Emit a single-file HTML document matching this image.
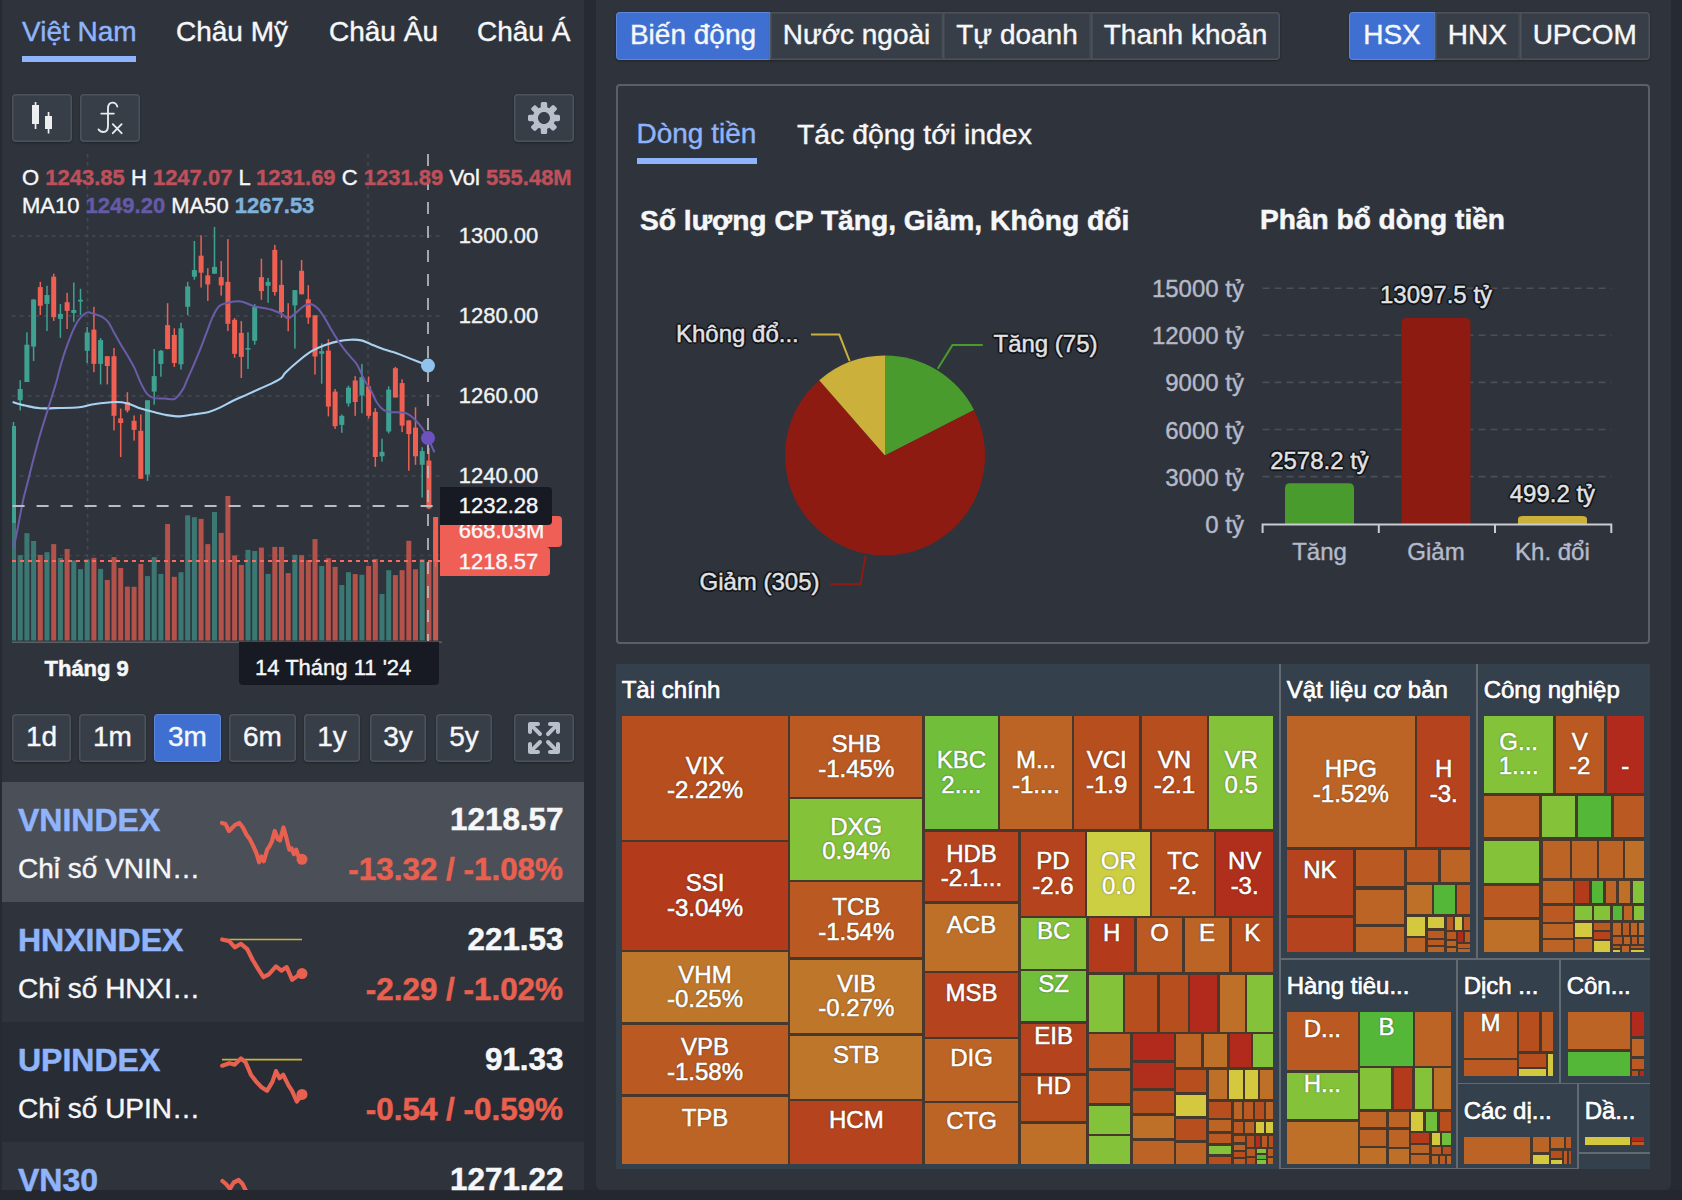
<!DOCTYPE html><html><head><meta charset="utf-8"><title>Dashboard</title><style>
*{box-sizing:border-box}
html,body{margin:0;padding:0}
html{width:1682px;height:1200px;overflow:hidden}
body{width:1682px;height:1200px;background:#24272d;position:relative;overflow:hidden;font-family:"Liberation Sans",sans-serif;color:#f6f7f9;font-size:28px;-webkit-text-stroke:.4px}
.abs{position:absolute}
.panel{position:absolute;background:#2f343c}
.t{position:absolute;white-space:nowrap;line-height:1}
.btn{position:absolute;background:#383e47;border-radius:4px;box-shadow:inset 0 0 0 1.500px rgba(255,255,255,.11),0 1px 2px rgba(17,20,24,.5);text-align:center;font-size:28px;color:#f6f7f9}
.btn.on{background:#3f70d1;box-shadow:inset 0 0 0 1px rgba(255,255,255,.16),0 1px 2px rgba(17,20,24,.5)}
.tb{height:48px;line-height:46.800px}
.blue{color:#8fb4fb}
.red{color:#e8604f}
.b{font-weight:bold;-webkit-text-stroke:.5px}
.row{position:absolute;left:2px;width:582px;height:120px}
.tm{position:absolute;overflow:hidden;color:#fff;text-align:center;font-size:24px;line-height:24.500px;-webkit-text-stroke:.6px;text-shadow:0 0 2px rgba(0,0,0,.6),0 0 1px rgba(0,0,0,.5)}
.sec{position:absolute;background:#35404d}
.sech{position:absolute;font-size:24px;line-height:1;color:#fff;white-space:nowrap;-webkit-text-stroke:.7px;text-shadow:0 0 2px rgba(0,0,0,.5)}
.pl{position:absolute;white-space:nowrap;font-size:24px;line-height:1;color:#e0e2e5;-webkit-text-stroke:.45px;text-shadow:-1.400px -1.400px 0 #101317,1.400px -1.400px 0 #101317,-1.400px 1.400px 0 #101317,1.400px 1.400px 0 #101317,0 -1.800px 0 #101317,0 1.800px 0 #101317,-1.800px 0 0 #101317,1.800px 0 0 #101317,0 0 3px #101317}
.ax{position:absolute;white-space:nowrap;font-size:24px;line-height:1;color:#b5b9c9}
</style></head><body>
<div class="abs" style="left:0;top:0;width:1682px;height:1190px;background:#262a32"></div>
<div class="panel" style="left:2px;top:0;width:582px;height:1190px;border-radius:0 0 5px 5px"></div>
<div class="panel" style="left:596px;top:0;width:1075px;height:1190px;border-radius:0 0 6px 6px"></div>
<div class="t blue" style="left:22px;top:15.9px;font-size:28px;line-height:32.2px;">Việt Nam</div>
<div class="t " style="left:176px;top:15.9px;font-size:28px;line-height:32.2px;">Châu Mỹ</div>
<div class="t " style="left:329px;top:15.9px;font-size:28px;line-height:32.2px;">Châu Âu</div>
<div class="t " style="left:477px;top:15.9px;font-size:28px;line-height:32.2px;">Châu Á</div>
<div class="abs" style="left:22px;top:56px;width:114px;height:6px;background:#8fb4fb"></div>
<div class="btn" style="left:12px;top:94px;width:60px;height:48px"></div>
<div class="btn" style="left:80px;top:94px;width:60px;height:48px"></div>
<div class="btn" style="left:514px;top:94px;width:60px;height:48px"></div>
<svg class="abs" style="left:0;top:90px" width="584" height="60" viewBox="0 90 584 60">
<g fill="#eceef0"><rect x="32" y="105" width="7" height="19"/><rect x="34.7" y="102" width="1.7" height="27"/>
<rect x="45" y="116" width="7" height="13"/><rect x="47.7" y="112" width="1.7" height="21.5"/></g>
<g fill="none" stroke="#e8eaed" stroke-width="1.9" stroke-linecap="round"><path d="M117.300 106.600C116.600 104 114.800 102.600 112.600 102.600C109.600 102.600 108 104.800 108 108.600V126C108 129.800 106.200 132 103.400 132C101.400 132 99.600 131 98.600 129.400"/><path d="M101.300 113.600H113.800"/><path d="M112.800 124.200L121.600 133.200M121.600 124.200L112.800 133.200"/></g>
<g transform="translate(528,102) scale(2)" fill="#b9c0cb"><path fill-rule="evenodd" d="M15.190 6.390h-1.850c-.11-.37-.27-.71-.45-1.040l1.360-1.360c.31-.31.31-.82 0-1.130l-1.130-1.130a.803.803 0 00-1.130 0l-1.360 1.360c-.33-.17-.67-.33-1.040-.44V.790c0-.44-.36-.8-.8-.8h-1.600c-.44 0-.8.36-.8.800v1.860c-.39.12-.75.28-1.100.47l-1.300-1.300c-.3-.3-.79-.3-1.090 0L1.820 2.910c-.3.300-.3.790 0 1.090l1.300 1.300c-.2.340-.36.700-.48 1.090H.790c-.44 0-.8.36-.8.800v1.600c0 .44.360.8.800.8h1.850c.11.370.27.710.45 1.040l-1.360 1.360c-.31.31-.31.82 0 1.130l1.130 1.130c.31.31.82.31 1.130 0l1.360-1.360c.33.180.67.330 1.040.44v1.860c0 .44.360.8.800.8h1.600c.44 0 .8-.36.8-.8v-1.860c.39-.12.750-.28 1.100-.47l1.300 1.300c.3.300.79.300 1.090 0l1.090-1.090c.3-.3.300-.79 0-1.090l-1.300-1.300c.19-.35.360-.71.480-1.100h1.850c.44 0 .8-.36.800-.8v-1.600a.816.816 0 00-.81-.79zm-7.200 4.600c-1.660 0-3-1.340-3-3s1.340-3 3-3 3 1.340 3 3-1.340 3-3 3z"/></g>
</svg>
<svg class="abs" style="left:0;top:150px" width="584" height="545" viewBox="0 150 584 545"><defs><clipPath id="cc"><rect x="12" y="150" width="430" height="500"/></clipPath></defs><g clip-path="url(#cc)">
<line x1="12" x2="440" y1="236" y2="236" stroke="#464b53" stroke-width="1.5" stroke-dasharray="3.5 4.5"/>
<line x1="12" x2="440" y1="316" y2="316" stroke="#464b53" stroke-width="1.5" stroke-dasharray="3.5 4.5"/>
<line x1="12" x2="440" y1="396" y2="396" stroke="#464b53" stroke-width="1.5" stroke-dasharray="3.5 4.5"/>
<line x1="12" x2="440" y1="476" y2="476" stroke="#464b53" stroke-width="1.5" stroke-dasharray="3.5 4.5"/>
<line x1="12" x2="440" y1="555.5" y2="555.5" stroke="#40454d" stroke-width="1.4" stroke-dasharray="3.5 4.5"/>
<line x1="87.5" x2="87.5" y1="154" y2="641" stroke="#464b53" stroke-width="1.5" stroke-dasharray="3.5 4.5"/>
<line x1="368" x2="368" y1="154" y2="641" stroke="#464b53" stroke-width="1.5" stroke-dasharray="3.5 4.5"/>
<rect x="11.0" y="522.5" width="5" height="118.0" fill="#3c7873"/>
<rect x="17.7" y="555.2" width="5" height="85.3" fill="#3c7873"/>
<rect x="24.4" y="533.2" width="5" height="107.3" fill="#3c7873"/>
<rect x="31.1" y="541.0" width="5" height="99.5" fill="#3c7873"/>
<rect x="37.8" y="554.9" width="5" height="85.6" fill="#b2524b"/>
<rect x="44.5" y="552.2" width="5" height="88.3" fill="#3c7873"/>
<rect x="51.2" y="544.1" width="5" height="96.4" fill="#b2524b"/>
<rect x="57.9" y="558.0" width="5" height="82.5" fill="#3c7873"/>
<rect x="64.6" y="549.0" width="5" height="91.5" fill="#b2524b"/>
<rect x="71.3" y="560.4" width="5" height="80.1" fill="#3c7873"/>
<rect x="78.0" y="569.2" width="5" height="71.3" fill="#3c7873"/>
<rect x="84.7" y="559.4" width="5" height="81.1" fill="#3c7873"/>
<rect x="91.4" y="557.8" width="5" height="82.7" fill="#b2524b"/>
<rect x="98.1" y="568.9" width="5" height="71.6" fill="#3c7873"/>
<rect x="104.8" y="580.0" width="5" height="60.5" fill="#b2524b"/>
<rect x="111.5" y="557.1" width="5" height="83.4" fill="#b2524b"/>
<rect x="118.2" y="568.0" width="5" height="72.5" fill="#b2524b"/>
<rect x="124.9" y="586.6" width="5" height="53.9" fill="#b2524b"/>
<rect x="131.6" y="586.8" width="5" height="53.7" fill="#b2524b"/>
<rect x="138.3" y="563.9" width="5" height="76.6" fill="#b2524b"/>
<rect x="145.0" y="576.1" width="5" height="64.4" fill="#3c7873"/>
<rect x="151.7" y="557.1" width="5" height="83.4" fill="#3c7873"/>
<rect x="158.4" y="573.9" width="5" height="66.6" fill="#3c7873"/>
<rect x="165.1" y="524.0" width="5" height="116.5" fill="#b2524b"/>
<rect x="171.8" y="576.8" width="5" height="63.7" fill="#b2524b"/>
<rect x="178.5" y="572.2" width="5" height="68.3" fill="#3c7873"/>
<rect x="185.2" y="515.3" width="5" height="125.2" fill="#3c7873"/>
<rect x="191.9" y="517.2" width="5" height="123.3" fill="#3c7873"/>
<rect x="198.6" y="518.9" width="5" height="121.6" fill="#b2524b"/>
<rect x="205.3" y="544.1" width="5" height="96.4" fill="#b2524b"/>
<rect x="212.0" y="512.0" width="5" height="128.5" fill="#3c7873"/>
<rect x="218.7" y="532.9" width="5" height="107.6" fill="#b2524b"/>
<rect x="225.4" y="496.0" width="5" height="144.5" fill="#b2524b"/>
<rect x="232.1" y="555.4" width="5" height="85.1" fill="#b2524b"/>
<rect x="238.8" y="565.0" width="5" height="75.5" fill="#b2524b"/>
<rect x="245.5" y="549.9" width="5" height="90.6" fill="#3c7873"/>
<rect x="252.2" y="551.0" width="5" height="89.5" fill="#3c7873"/>
<rect x="258.9" y="547.6" width="5" height="92.9" fill="#b2524b"/>
<rect x="265.6" y="573.9" width="5" height="66.6" fill="#3c7873"/>
<rect x="272.3" y="546.9" width="5" height="93.6" fill="#b2524b"/>
<rect x="279.0" y="546.9" width="5" height="93.6" fill="#b2524b"/>
<rect x="285.7" y="573.1" width="5" height="67.4" fill="#b2524b"/>
<rect x="292.4" y="554.8" width="5" height="85.7" fill="#3c7873"/>
<rect x="299.1" y="555.2" width="5" height="85.3" fill="#b2524b"/>
<rect x="305.8" y="560.0" width="5" height="80.5" fill="#b2524b"/>
<rect x="312.5" y="539.1" width="5" height="101.4" fill="#b2524b"/>
<rect x="319.2" y="566.0" width="5" height="74.5" fill="#3c7873"/>
<rect x="325.9" y="558.2" width="5" height="82.3" fill="#b2524b"/>
<rect x="332.6" y="566.9" width="5" height="73.6" fill="#b2524b"/>
<rect x="339.3" y="585.0" width="5" height="55.5" fill="#3c7873"/>
<rect x="346.0" y="572.2" width="5" height="68.3" fill="#3c7873"/>
<rect x="352.7" y="574.1" width="5" height="66.4" fill="#b2524b"/>
<rect x="359.4" y="574.8" width="5" height="65.7" fill="#3c7873"/>
<rect x="366.1" y="566.0" width="5" height="74.5" fill="#b2524b"/>
<rect x="372.8" y="559.1" width="5" height="81.4" fill="#b2524b"/>
<rect x="379.5" y="594.0" width="5" height="46.5" fill="#3c7873"/>
<rect x="386.2" y="570.2" width="5" height="70.3" fill="#3c7873"/>
<rect x="392.9" y="575.1" width="5" height="65.4" fill="#b2524b"/>
<rect x="399.6" y="570.2" width="5" height="70.3" fill="#b2524b"/>
<rect x="406.3" y="540.8" width="5" height="99.7" fill="#b2524b"/>
<rect x="413.0" y="569.3" width="5" height="71.2" fill="#b2524b"/>
<rect x="419.7" y="559.4" width="5" height="81.1" fill="#3c7873"/>
<rect x="426.4" y="562.0" width="5" height="78.5" fill="#b2524b"/>
<rect x="433.1" y="530.1" width="5" height="110.4" fill="#c25a52"/>
<line x1="12" x2="442" y1="642.3" y2="642.3" stroke="#5a5f68" stroke-width="1.5"/>
<rect x="12.75" y="422.0" width="1.5" height="101.0" fill="#3fa192"/>
<rect x="11.00" y="426.0" width="5" height="97.0" fill="#3fa192"/>
<rect x="19.45" y="380.2" width="1.5" height="30.3" fill="#3fa192"/>
<rect x="17.70" y="389.0" width="5" height="11.3" fill="#3fa192"/>
<rect x="26.15" y="332.3" width="1.5" height="49.7" fill="#3fa192"/>
<rect x="24.40" y="344.7" width="5" height="37.3" fill="#3fa192"/>
<rect x="32.85" y="298.9" width="1.5" height="62.1" fill="#3fa192"/>
<rect x="31.10" y="299.6" width="5" height="47.0" fill="#3fa192"/>
<rect x="39.55" y="281.9" width="1.5" height="33.1" fill="#ef5f52"/>
<rect x="37.80" y="287.1" width="5" height="18.7" fill="#ef5f52"/>
<rect x="46.25" y="285.8" width="1.5" height="45.2" fill="#3fa192"/>
<rect x="44.50" y="295.0" width="5" height="8.9" fill="#3fa192"/>
<rect x="52.95" y="273.7" width="1.5" height="47.2" fill="#ef5f52"/>
<rect x="51.20" y="276.7" width="5" height="40.5" fill="#ef5f52"/>
<rect x="59.65" y="304.1" width="1.5" height="33.7" fill="#3fa192"/>
<rect x="57.90" y="313.9" width="5" height="5.0" fill="#3fa192"/>
<rect x="66.35" y="292.8" width="1.5" height="36.2" fill="#ef5f52"/>
<rect x="64.60" y="302.2" width="5" height="8.7" fill="#ef5f52"/>
<rect x="73.05" y="282.6" width="1.5" height="39.2" fill="#3fa192"/>
<rect x="71.30" y="310.0" width="5" height="2.9" fill="#3fa192"/>
<rect x="79.75" y="288.8" width="1.5" height="26.5" fill="#3fa192"/>
<rect x="78.00" y="299.8" width="5" height="1.7" fill="#3fa192"/>
<rect x="86.45" y="327.0" width="1.5" height="36.0" fill="#3fa192"/>
<rect x="84.70" y="332.5" width="5" height="18.3" fill="#3fa192"/>
<rect x="93.15" y="306.8" width="1.5" height="65.4" fill="#ef5f52"/>
<rect x="91.40" y="329.6" width="5" height="34.3" fill="#ef5f52"/>
<rect x="99.85" y="338.1" width="1.5" height="46.3" fill="#3fa192"/>
<rect x="98.10" y="340.1" width="5" height="23.8" fill="#3fa192"/>
<rect x="106.55" y="356.2" width="1.5" height="28.2" fill="#ef5f52"/>
<rect x="104.80" y="356.2" width="5" height="9.8" fill="#ef5f52"/>
<rect x="113.25" y="348.0" width="1.5" height="82.4" fill="#ef5f52"/>
<rect x="111.50" y="356.2" width="5" height="59.6" fill="#ef5f52"/>
<rect x="119.95" y="408.6" width="1.5" height="48.4" fill="#ef5f52"/>
<rect x="118.20" y="418.4" width="5" height="4.6" fill="#ef5f52"/>
<rect x="126.65" y="392.2" width="1.5" height="20.3" fill="#ef5f52"/>
<rect x="124.90" y="402.0" width="5" height="8.5" fill="#ef5f52"/>
<rect x="133.35" y="415.5" width="1.5" height="25.1" fill="#ef5f52"/>
<rect x="131.60" y="420.8" width="5" height="9.1" fill="#ef5f52"/>
<rect x="140.05" y="414.5" width="1.5" height="64.3" fill="#ef5f52"/>
<rect x="138.30" y="430.8" width="5" height="48.0" fill="#ef5f52"/>
<rect x="146.75" y="400.3" width="1.5" height="80.6" fill="#3fa192"/>
<rect x="145.00" y="400.3" width="5" height="74.3" fill="#3fa192"/>
<rect x="153.45" y="349.0" width="1.5" height="55.7" fill="#3fa192"/>
<rect x="151.70" y="376.1" width="5" height="15.5" fill="#3fa192"/>
<rect x="160.15" y="349.9" width="1.5" height="26.8" fill="#3fa192"/>
<rect x="158.40" y="350.8" width="5" height="13.1" fill="#3fa192"/>
<rect x="166.85" y="303.2" width="1.5" height="46.1" fill="#ef5f52"/>
<rect x="165.10" y="325.1" width="5" height="23.9" fill="#ef5f52"/>
<rect x="173.55" y="328.3" width="1.5" height="38.6" fill="#ef5f52"/>
<rect x="171.80" y="334.9" width="5" height="28.1" fill="#ef5f52"/>
<rect x="180.25" y="322.8" width="1.5" height="46.7" fill="#3fa192"/>
<rect x="178.50" y="328.3" width="5" height="36.0" fill="#3fa192"/>
<rect x="186.95" y="281.9" width="1.5" height="33.4" fill="#3fa192"/>
<rect x="185.20" y="286.5" width="5" height="20.3" fill="#3fa192"/>
<rect x="193.65" y="241.0" width="1.5" height="38.7" fill="#3fa192"/>
<rect x="191.90" y="270.1" width="5" height="6.6" fill="#3fa192"/>
<rect x="200.35" y="235.2" width="1.5" height="52.3" fill="#ef5f52"/>
<rect x="198.60" y="255.7" width="5" height="17.0" fill="#ef5f52"/>
<rect x="207.05" y="268.2" width="1.5" height="32.7" fill="#ef5f52"/>
<rect x="205.30" y="275.4" width="5" height="9.1" fill="#ef5f52"/>
<rect x="213.75" y="227.0" width="1.5" height="46.7" fill="#3fa192"/>
<rect x="212.00" y="266.9" width="5" height="6.8" fill="#3fa192"/>
<rect x="220.45" y="261.0" width="1.5" height="34.6" fill="#ef5f52"/>
<rect x="218.70" y="277.1" width="5" height="8.3" fill="#ef5f52"/>
<rect x="227.15" y="239.1" width="1.5" height="91.9" fill="#ef5f52"/>
<rect x="225.40" y="281.9" width="5" height="41.9" fill="#ef5f52"/>
<rect x="233.85" y="318.1" width="1.5" height="39.7" fill="#ef5f52"/>
<rect x="232.10" y="319.8" width="5" height="34.0" fill="#ef5f52"/>
<rect x="240.55" y="321.1" width="1.5" height="56.9" fill="#ef5f52"/>
<rect x="238.80" y="332.9" width="5" height="24.0" fill="#ef5f52"/>
<rect x="247.25" y="332.3" width="1.5" height="36.6" fill="#3fa192"/>
<rect x="245.50" y="348.0" width="5" height="1.6" fill="#3fa192"/>
<rect x="253.95" y="304.1" width="1.5" height="40.6" fill="#3fa192"/>
<rect x="252.20" y="306.8" width="5" height="34.0" fill="#3fa192"/>
<rect x="260.65" y="258.7" width="1.5" height="41.1" fill="#ef5f52"/>
<rect x="258.90" y="277.1" width="5" height="14.0" fill="#ef5f52"/>
<rect x="267.35" y="278.0" width="1.5" height="24.8" fill="#3fa192"/>
<rect x="265.60" y="281.9" width="5" height="3.9" fill="#3fa192"/>
<rect x="274.05" y="244.9" width="1.5" height="50.7" fill="#ef5f52"/>
<rect x="272.30" y="249.9" width="5" height="42.1" fill="#ef5f52"/>
<rect x="280.75" y="260.1" width="1.5" height="57.8" fill="#ef5f52"/>
<rect x="279.00" y="284.9" width="5" height="27.1" fill="#ef5f52"/>
<rect x="287.45" y="303.2" width="1.5" height="28.0" fill="#ef5f52"/>
<rect x="285.70" y="316.6" width="5" height="1.9" fill="#ef5f52"/>
<rect x="294.15" y="290.1" width="1.5" height="58.5" fill="#3fa192"/>
<rect x="292.40" y="290.1" width="5" height="15.3" fill="#3fa192"/>
<rect x="300.85" y="260.1" width="1.5" height="34.2" fill="#ef5f52"/>
<rect x="299.10" y="270.8" width="5" height="23.5" fill="#ef5f52"/>
<rect x="307.55" y="285.2" width="1.5" height="38.6" fill="#ef5f52"/>
<rect x="305.80" y="299.3" width="5" height="18.3" fill="#ef5f52"/>
<rect x="314.25" y="315.3" width="1.5" height="59.3" fill="#ef5f52"/>
<rect x="312.50" y="315.3" width="5" height="41.2" fill="#ef5f52"/>
<rect x="320.95" y="343.4" width="1.5" height="40.3" fill="#3fa192"/>
<rect x="319.20" y="351.2" width="5" height="2.6" fill="#3fa192"/>
<rect x="327.65" y="339.1" width="1.5" height="77.3" fill="#ef5f52"/>
<rect x="325.90" y="350.6" width="5" height="56.0" fill="#ef5f52"/>
<rect x="334.35" y="389.0" width="1.5" height="39.9" fill="#ef5f52"/>
<rect x="332.60" y="391.6" width="5" height="34.6" fill="#ef5f52"/>
<rect x="341.05" y="414.5" width="1.5" height="18.3" fill="#3fa192"/>
<rect x="339.30" y="415.8" width="5" height="9.1" fill="#3fa192"/>
<rect x="347.75" y="385.7" width="1.5" height="20.9" fill="#3fa192"/>
<rect x="346.00" y="387.7" width="5" height="15.7" fill="#3fa192"/>
<rect x="354.45" y="376.1" width="1.5" height="39.7" fill="#ef5f52"/>
<rect x="352.70" y="380.5" width="5" height="21.5" fill="#ef5f52"/>
<rect x="361.15" y="363.9" width="1.5" height="49.3" fill="#3fa192"/>
<rect x="359.40" y="377.2" width="5" height="18.3" fill="#3fa192"/>
<rect x="367.85" y="376.5" width="1.5" height="41.9" fill="#ef5f52"/>
<rect x="366.10" y="386.4" width="5" height="29.4" fill="#ef5f52"/>
<rect x="374.55" y="408.2" width="1.5" height="58.6" fill="#ef5f52"/>
<rect x="372.80" y="411.9" width="5" height="45.1" fill="#ef5f52"/>
<rect x="381.25" y="438.7" width="1.5" height="22.9" fill="#3fa192"/>
<rect x="379.50" y="451.8" width="5" height="4.5" fill="#3fa192"/>
<rect x="387.95" y="386.4" width="1.5" height="47.0" fill="#3fa192"/>
<rect x="386.20" y="389.6" width="5" height="41.9" fill="#3fa192"/>
<rect x="394.65" y="366.9" width="1.5" height="30.6" fill="#ef5f52"/>
<rect x="392.90" y="368.2" width="5" height="29.3" fill="#ef5f52"/>
<rect x="401.35" y="379.3" width="1.5" height="52.8" fill="#ef5f52"/>
<rect x="399.60" y="383.1" width="5" height="42.5" fill="#ef5f52"/>
<rect x="408.05" y="420.4" width="1.5" height="50.3" fill="#ef5f52"/>
<rect x="406.30" y="420.4" width="5" height="13.7" fill="#ef5f52"/>
<rect x="414.75" y="407.3" width="1.5" height="57.5" fill="#ef5f52"/>
<rect x="413.00" y="427.6" width="5" height="28.7" fill="#ef5f52"/>
<rect x="421.45" y="447.2" width="1.5" height="50.3" fill="#3fa192"/>
<rect x="419.70" y="451.1" width="5" height="13.7" fill="#3fa192"/>
<rect x="428.15" y="447.7" width="1.5" height="61.5" fill="#ef5f52"/>
<rect x="426.40" y="460.6" width="5" height="47.8" fill="#ef5f52"/>
<rect x="434.85" y="517.0" width="1.5" height="50.0" fill="#ef5f52"/>
<rect x="433.10" y="517.0" width="5" height="44.7" fill="#ef5f52"/>
<path d="M12.6 402.0C14.7 402.6 20.4 404.5 25.0 405.5C29.6 406.5 34.3 407.8 40.1 408.2C45.9 408.6 53.5 408.1 60.0 408.0C66.5 407.9 73.7 407.9 79.3 407.3C84.9 406.7 87.8 405.2 93.7 404.3C99.6 403.4 108.9 402.1 114.6 402.0C120.3 401.9 123.3 402.3 127.7 403.4C132.1 404.5 136.4 407.2 140.8 408.6C145.2 410.1 149.5 411.0 153.9 412.1C158.3 413.2 162.7 414.4 167.0 415.1C171.3 415.8 175.7 416.5 180.0 416.4C184.3 416.3 188.3 415.2 193.1 414.5C197.9 413.8 204.4 413.0 208.8 411.9C213.2 410.8 215.3 409.8 219.3 407.9C223.3 406.0 228.5 402.9 233.0 400.7C237.5 398.5 241.8 396.8 246.2 394.9C250.6 392.9 254.8 391.0 259.2 389.0C263.6 387.0 268.6 385.0 272.3 383.1C276.0 381.2 279.3 379.5 281.5 377.8C283.7 376.1 282.6 375.6 285.4 372.8C288.2 370.0 294.1 364.6 298.5 361.0C302.9 357.4 307.2 353.8 311.6 351.2C316.0 348.6 320.2 346.9 324.6 345.3C329.0 343.7 333.3 342.3 337.7 341.4C342.1 340.5 346.9 339.9 350.8 339.7C354.7 339.5 358.0 339.7 361.3 340.4C364.6 341.1 366.7 342.5 370.4 344.0C374.1 345.5 379.1 347.8 383.5 349.3C387.9 350.8 392.2 351.7 396.6 353.2C401.0 354.7 404.5 356.3 409.7 358.4C414.9 360.5 424.9 364.4 428.0 365.6" fill="none" stroke="#a9d2f2" stroke-width="2.1" stroke-linejoin="round"/>
<path d="M13.9 547.0C14.6 543.8 16.3 535.4 17.8 527.7C19.3 520.0 21.5 507.9 23.0 500.8C24.5 493.7 25.2 492.0 27.0 485.0C28.8 478.0 31.3 467.3 33.5 459.0C35.7 450.7 37.6 443.3 40.0 435.0C42.4 426.7 45.3 417.7 47.9 409.2C50.5 400.7 53.8 390.7 55.8 384.0C57.8 377.3 58.4 373.7 59.7 369.0C61.0 364.3 62.2 360.2 63.6 355.8C65.0 351.4 66.6 347.1 68.2 342.7C69.8 338.3 71.6 333.5 73.4 329.6C75.2 325.7 77.0 322.1 79.3 319.2C81.6 316.3 84.8 313.3 87.2 312.4C89.6 311.5 91.3 313.2 93.7 313.9C96.1 314.6 99.2 315.3 101.6 316.6C104.0 317.9 105.9 319.0 108.1 321.8C110.3 324.6 112.4 329.7 114.6 333.6C116.8 337.5 119.0 341.6 121.2 345.3C123.4 349.0 125.5 352.1 127.7 355.8C129.9 359.5 132.1 363.1 134.3 367.6C136.5 372.1 138.6 378.6 140.8 383.0C143.0 387.4 145.1 391.7 147.3 394.2C149.5 396.7 151.0 397.4 153.9 398.1C156.8 398.8 161.5 398.4 165.0 398.5C168.5 398.6 171.9 400.3 174.8 398.8C177.8 397.3 180.7 392.7 182.7 389.6C184.7 386.5 185.3 383.9 187.0 380.0C188.7 376.1 191.0 371.2 193.1 366.3C195.2 361.4 197.5 356.1 199.7 350.6C201.9 345.2 204.0 339.3 206.2 333.6C208.4 327.9 210.6 321.2 212.8 316.6C215.0 312.0 216.8 308.4 219.3 306.1C221.8 303.8 224.2 303.6 227.8 302.8C231.4 302.0 236.5 300.9 240.9 301.5C245.3 302.1 248.8 304.7 254.0 306.1C259.2 307.5 267.7 308.7 272.3 310.0C276.9 311.3 278.9 312.6 281.5 314.0C284.1 315.4 285.8 318.1 288.0 318.1C290.2 318.1 292.0 316.0 294.6 314.0C297.2 312.0 301.1 307.8 303.7 306.1C306.3 304.5 307.9 303.7 310.3 304.1C312.7 304.5 315.7 306.4 318.1 308.7C320.5 311.0 322.4 314.4 324.6 317.9C326.8 321.4 329.0 325.9 331.2 329.6C333.4 333.3 335.5 336.8 337.7 340.1C339.9 343.4 342.1 346.5 344.3 349.3C346.5 352.1 348.6 354.5 350.8 357.1C353.0 359.7 355.1 361.3 357.3 365.0C359.5 368.7 361.7 375.1 363.9 379.2C366.1 383.3 368.2 385.7 370.4 389.6C372.6 393.5 374.8 399.3 377.0 402.7C379.2 406.1 381.3 408.4 383.5 409.9C385.7 411.4 386.7 411.5 390.0 411.9C393.3 412.3 399.8 412.0 403.1 412.5C406.4 413.0 407.5 413.7 409.7 415.1C411.9 416.5 414.0 418.7 416.2 421.0C418.4 423.3 420.7 426.1 422.7 428.9C424.7 431.7 426.0 434.1 428.0 438.0C430.0 441.9 433.4 450.0 434.5 452.4" fill="none" stroke="#6a5ca8" stroke-width="2" stroke-linejoin="round"/>
<line x1="12" x2="440" y1="561" y2="561" stroke="#fb6a60" stroke-width="2" stroke-dasharray="4 4"/>
<line x1="12.600" x2="440" y1="506" y2="506" stroke="#b9bcc2" stroke-width="2" stroke-dasharray="12 12"/>
<line x1="428" x2="428" y1="154" y2="641" stroke="#b9bcc2" stroke-width="2" stroke-dasharray="12 12" stroke-opacity=".85"/>
<circle cx="428" cy="365.600" r="7" fill="#8fc3ee"/>
<circle cx="428" cy="438" r="7" fill="#6d52bd"/>
</g></svg>
<div class="t" style="left:22px;top:164.500px;font-size:22px;line-height:26px">O <span style="color:#bd505b;font-weight:bold">1243.85</span> H <span style="color:#bd505b;font-weight:bold">1247.07</span> L <span style="color:#bd505b;font-weight:bold">1231.69</span> C <span style="color:#bd505b;font-weight:bold">1231.89</span> Vol <span style="color:#bd505b;font-weight:bold">555.48M</span></div>
<div class="t" style="left:22px;top:193px;font-size:22px;line-height:26px">MA10 <span style="color:#645aa6;font-weight:bold">1249.20</span> MA50 <span style="color:#7fb2dc;font-weight:bold">1267.53</span></div>
<div class="t " style="left:458.7px;top:223.3px;font-size:22px;line-height:25.3px;color:#f1f2f4">1300.00</div>
<div class="t " style="left:458.7px;top:303.4px;font-size:22px;line-height:25.3px;color:#f1f2f4">1280.00</div>
<div class="t " style="left:458.7px;top:383.4px;font-size:22px;line-height:25.3px;color:#f1f2f4">1260.00</div>
<div class="t " style="left:458.7px;top:463.4px;font-size:22px;line-height:25.3px;color:#f1f2f4">1240.00</div>
<div class="abs" style="left:440px;top:515.500px;width:122px;height:31px;background:#ef5f55;border-radius:0 4px 4px 0"></div>
<div class="t " style="left:458.7px;top:518.1px;font-size:22px;line-height:25.3px;">668.03M</div>
<div class="abs" style="left:440px;top:547px;width:110px;height:29px;background:#ef5f55;border-radius:0 4px 4px 0"></div>
<div class="t " style="left:458.7px;top:548.9px;font-size:22px;line-height:25.3px;">1218.57</div>
<div class="abs" style="left:440px;top:487px;width:112px;height:37.500px;background:#171a23;border-radius:0 4px 4px 0"></div>
<div class="t " style="left:458.7px;top:493.4px;font-size:22px;line-height:25.3px;">1232.28</div>
<div class="t b" style="left:44.5px;top:656.4px;font-size:22px;line-height:25.3px;">Tháng 9</div>
<div class="abs" style="left:239px;top:642px;width:200px;height:43px;background:#171a23;border-radius:0 0 4px 4px"></div>
<div class="t " style="left:255px;top:655.4px;font-size:22px;line-height:25.3px;">14 Tháng 11 '24</div>
<div class="btn tb" style="left:12px;top:714px;width:59px">1d</div>
<div class="btn tb" style="left:79px;top:714px;width:67px">1m</div>
<div class="btn tb on" style="left:154px;top:714px;width:67px">3m</div>
<div class="btn tb" style="left:229px;top:714px;width:67px">6m</div>
<div class="btn tb" style="left:304px;top:714px;width:56px">1y</div>
<div class="btn tb" style="left:370px;top:714px;width:56px">3y</div>
<div class="btn tb" style="left:436px;top:714px;width:56px">5y</div>
<div class="btn tb" style="left:514px;top:714px;width:60px"></div>
<svg class="abs" style="left:528px;top:722px" width="32" height="32" viewBox="0 0 16 16"><path fill="#b9c0cb" d="M3.410 2H5c.55 0 1-.45 1-1s-.45-1-1-1H1C.45 0 0 .45 0 1v4c0 .55.45 1 1 1s1-.45 1-1V3.410L5.290 6.700c.18.19.43.3.71.3a1.003 1.003 0 00.71-1.710L3.410 2zM6 9c-.28 0-.53.11-.71.29L2 12.590V11c0-.55-.45-1-1-1s-1 .45-1 1v4c0 .55.45 1 1 1h4c.55 0 1-.45 1-1s-.45-1-1-1H3.410l3.290-3.290c.19-.18.3-.43.3-.71 0-.55-.45-1-1-1zm9 1c-.55 0-1 .45-1 1v1.590l-3.290-3.290a1.003 1.003 0 00-1.420 1.420l3.300 3.280H11c-.55 0-1 .45-1 1s.45 1 1 1h4c.55 0 1-.45 1-1v-4c0-.55-.45-1-1-1zm0-10h-4c-.55 0-1 .45-1 1s.45 1 1 1h1.590L9.290 5.290a1.003 1.003 0 001.420 1.420L14 3.410V5c0 .55.45 1 1 1s1-.45 1-1V1c0-.55-.45-1-1-1z"/></svg>
<div class="row" style="top:782px;height:120px;background:#4a4f58"></div>
<div class="t blue b" style="left:18px;top:801.6px;font-size:32px;line-height:36.8px;">VNINDEX</div>
<div class="t " style="left:18px;top:853.1px;font-size:28px;line-height:32.2px;">Chỉ số VNIN…</div>
<div class="t b" style="right:1118.5px;top:802px;font-size:31.400px;line-height:36px">1218.57</div>
<div class="t b red" style="right:1119px;top:851.5px;font-size:31.400px;line-height:36px">-13.32 / -1.08%</div>
<div class="row" style="top:902px;height:120px;background:#2f343c"></div>
<div class="t blue b" style="left:18px;top:921.6px;font-size:32px;line-height:36.8px;">HNXINDEX</div>
<div class="t " style="left:18px;top:973.1px;font-size:28px;line-height:32.2px;">Chỉ số HNXI…</div>
<div class="t b" style="right:1118.5px;top:922px;font-size:31.400px;line-height:36px">221.53</div>
<div class="t b red" style="right:1119px;top:971.5px;font-size:31.400px;line-height:36px">-2.29 / -1.02%</div>
<div class="row" style="top:1022px;height:120px;background:#282c34"></div>
<div class="t blue b" style="left:18px;top:1041.6px;font-size:32px;line-height:36.8px;">UPINDEX</div>
<div class="t " style="left:18px;top:1093.1px;font-size:28px;line-height:32.2px;">Chỉ số UPIN…</div>
<div class="t b" style="right:1118.5px;top:1042px;font-size:31.400px;line-height:36px">91.33</div>
<div class="t b red" style="right:1119px;top:1091.5px;font-size:31.400px;line-height:36px">-0.54 / -0.59%</div>
<div class="row" style="top:1142px;height:48px;background:#2f343c"></div>
<div class="t blue b" style="left:18px;top:1161.6px;font-size:32px;line-height:36.8px;">VN30</div>
<div class="t b" style="right:1118.5px;top:1162px;font-size:31.400px;line-height:36px">1271.22</div>
<svg class="abs" style="left:200px;top:782px" width="140" height="408" viewBox="200 782 140 408">
<polyline points="222.0,822.9 225.5,824.1 229.0,831.0 234.8,825.2 239.4,822.9 242.9,827.5 246.4,834.5 249.8,839.1 253.3,846.1 256.8,854.2 259.1,862.3 261.4,856.5 263.8,861.2 267.2,849.6 269.6,846.1 271.9,841.4 274.7,831.0 277.7,839.1 280.0,840.3 283.5,827.5 285.8,835.6 289.3,849.6 291.6,848.4 293.9,854.2 296.2,849.6 298.5,856.5 302.0,859.3" fill="none" stroke="#e8604f" stroke-width="4.2" stroke-linejoin="round" stroke-linecap="round"/><circle cx="302" cy="859.300" r="5.5" fill="#e8604f"/>
<line x1="222" x2="302" y1="939.5" y2="939.5" stroke="#c9b23d" stroke-width="1.6"/><polyline points="222.2,939.5 229.4,941.3 234.8,947.4 240.9,943.8 247.3,949.2 252.7,960.0 258.1,968.9 263.4,977.2 268.8,974.3 276.0,966.4 281.4,970.7 286.7,967.1 292.1,979.7 297.5,976.1 302.2,973.6" fill="none" stroke="#e8604f" stroke-width="4.2" stroke-linejoin="round" stroke-linecap="round"/><circle cx="302" cy="973.600" r="5.5" fill="#e8604f"/>
<line x1="222" x2="302" y1="1059.6" y2="1059.6" stroke="#c9b23d" stroke-width="1.6"/><polyline points="222.2,1065.7 229.4,1063.2 234.8,1064.6 240.9,1058.5 245.5,1062.1 250.9,1074.7 256.3,1081.8 261.6,1087.2 267.0,1090.8 272.4,1081.8 276.0,1071.1 279.6,1078.2 283.2,1074.7 288.5,1085.4 292.1,1090.8 296.8,1101.5 302.2,1094.4" fill="none" stroke="#e8604f" stroke-width="4.2" stroke-linejoin="round" stroke-linecap="round"/><circle cx="302" cy="1094.400" r="5.5" fill="#e8604f"/>
<polyline points="222.400,1181 226,1184 230,1188.700 233.700,1182.500 238.700,1180 242.400,1183.700 246,1191" fill="none" stroke="#e8604f" stroke-width="4.2" stroke-linejoin="round" stroke-linecap="round"/>
</svg>
<div class="btn tb on" style="left:616px;top:12px;width:154px;border-radius:4px 0 0 4px">Biến động</div>
<div class="btn tb" style="left:770px;top:12px;width:173px;border-radius:0">Nước ngoài</div>
<div class="btn tb" style="left:943px;top:12px;width:148px;border-radius:0">Tự doanh</div>
<div class="btn tb" style="left:1091px;top:12px;width:189px;border-radius:0 4px 4px 0">Thanh khoản</div>
<div class="btn tb on" style="left:1349px;top:12px;width:86px;border-radius:4px 0 0 4px">HSX</div>
<div class="btn tb" style="left:1435px;top:12px;width:84.5px;border-radius:0">HNX</div>
<div class="btn tb" style="left:1519.5px;top:12px;width:130.5px;border-radius:0 4px 4px 0">UPCOM</div>
<div class="abs" style="left:616px;top:84px;width:1034px;height:560.400px;border:2px solid #5a6068;border-radius:4px"></div>
<div class="t blue" style="left:636.5px;top:117.9px;font-size:28px;line-height:32.2px;">Dòng tiền</div>
<div class="abs" style="left:636.500px;top:158px;width:120.500px;height:6px;background:#8fb4fb"></div>
<div class="t " style="left:797px;top:117.7px;font-size:28.4px;line-height:32.7px;">Tác động tới index</div>
<div class="t b" style="left:640px;top:204.3px;font-size:28.2px;line-height:32.4px;">Số lượng CP Tăng, Giảm, Không đổi</div>
<div class="t b" style="left:1260px;top:204.3px;font-size:28.1px;line-height:32.3px;">Phân bổ dòng tiền</div>
<svg class="abs" style="left:617px;top:260px" width="1033" height="380" viewBox="617 260 1033 380">
<path d="M885 455.5L885.00 355.50A100 100 0 0 1 974.05 410.00Z" fill="#4a9b2d"/><path d="M885 455.5L974.05 410.00A100 100 0 1 1 819.24 380.17Z" fill="#8e1b12"/><path d="M885 455.5L819.24 380.17A100 100 0 0 1 885.00 355.50Z" fill="#cbb03b"/>
<polyline points="937.700,368.700 952.500,344.900 982.800,344.900" fill="none" stroke="#4a9b2d" stroke-width="2"/>
<polyline points="811,334.600 839.300,334.600 849.600,361" fill="none" stroke="#cbb03b" stroke-width="2"/>
<polyline points="830.300,584.200 860.500,584.200 865.700,555.200" fill="none" stroke="#8e1b12" stroke-width="2"/>
<line x1="1262.600" x2="1611.300" y1="476.6" y2="476.6" stroke="#4a4f58" stroke-width="1.6" stroke-dasharray="7 5"/>
<line x1="1262.600" x2="1611.300" y1="429.5" y2="429.5" stroke="#4a4f58" stroke-width="1.6" stroke-dasharray="7 5"/>
<line x1="1262.600" x2="1611.300" y1="382.4" y2="382.4" stroke="#4a4f58" stroke-width="1.6" stroke-dasharray="7 5"/>
<line x1="1262.600" x2="1611.300" y1="335.3" y2="335.3" stroke="#4a4f58" stroke-width="1.6" stroke-dasharray="7 5"/>
<line x1="1262.600" x2="1611.300" y1="288.2" y2="288.2" stroke="#4a4f58" stroke-width="1.6" stroke-dasharray="7 5"/>
<path d="M1285 524.600V488.2Q1285 483.2 1290 483.2H1349Q1354 483.2 1354 488.2V524.600Z" fill="#4a9b2d"/><path d="M1401.5 524.600V323.1Q1401.5 318.1 1406.5 318.1H1465.5Q1470.5 318.1 1470.5 323.1V524.600Z" fill="#8e1b12"/>
<path d="M1518 524.600V519Q1518 515.900 1523 515.900H1582Q1587 515.900 1587 519V524.600Z" fill="#cbb03b"/>
<path d="M1262.600 533V524.600H1611.300V533M1378.800 524.600V533M1495 524.600V533" fill="none" stroke="#c9ccd1" stroke-width="2"/>
</svg>
<div class="pl" style="left:993.5px;top:329.5px;line-height:28px">Tăng (75)</div>
<div class="pl" style="left:676px;top:319.5px;line-height:28px">Không đổ...</div>
<div class="pl" style="left:699.5px;top:568px;line-height:28px">Giảm (305)</div>
<div class="pl" style="left:1169.5px;width:300px;text-align:center;top:446.9px;line-height:28px">2578.2 tỷ</div>
<div class="pl" style="left:1286px;width:300px;text-align:center;top:281.09999999999997px;line-height:28px">13097.5 tỷ</div>
<div class="pl" style="left:1402.4px;width:300px;text-align:center;top:480.4px;line-height:28px">499.2 tỷ</div>
<div class="ax" style="right:438px;top:510.7px;line-height:28px">0 tỷ</div>
<div class="ax" style="right:438px;top:463.6px;line-height:28px">3000 tỷ</div>
<div class="ax" style="right:438px;top:416.5px;line-height:28px">6000 tỷ</div>
<div class="ax" style="right:438px;top:369.4px;line-height:28px">9000 tỷ</div>
<div class="ax" style="right:438px;top:322.3px;line-height:28px">12000 tỷ</div>
<div class="ax" style="right:438px;top:275.2px;line-height:28px">15000 tỷ</div>
<div class="ax" style="left:1219.5px;width:200px;text-align:center;top:538px;line-height:28px">Tăng</div>
<div class="ax" style="left:1336px;width:200px;text-align:center;top:538px;line-height:28px">Giảm</div>
<div class="ax" style="left:1452.4px;width:200px;text-align:center;top:538px;line-height:28px">Kh. đổi</div>
<div class="abs" style="left:616px;top:664px;width:1034px;height:504.500px;background:#636970"></div>
<div class="sec" style="left:616px;top:664px;width:663.2px;height:504.5px"></div>
<div class="sech" style="left:621.7px;top:675.7px;line-height:28px">Tài chính</div>
<div class="sec" style="left:1281px;top:664px;width:194.8px;height:294.1px"></div>
<div class="sech" style="left:1286.7px;top:675.7px;line-height:28px">Vật liệu cơ bản</div>
<div class="sec" style="left:1477.6px;top:664px;width:172.4px;height:294.1px"></div>
<div class="sech" style="left:1483.7px;top:675.7px;line-height:28px">Công nghiệp</div>
<div class="sec" style="left:1281px;top:959.8px;width:175.3px;height:208.7px"></div>
<div class="sech" style="left:1286.7px;top:972.2px;line-height:28px">Hàng tiêu...</div>
<div class="sec" style="left:1458.1px;top:959.8px;width:101.3px;height:122.8px"></div>
<div class="sech" style="left:1463.7px;top:972.2px;line-height:28px">Dịch ...</div>
<div class="sec" style="left:1561.2px;top:959.8px;width:88.8px;height:122.8px"></div>
<div class="sech" style="left:1566.7px;top:972.2px;line-height:28px">Côn...</div>
<div class="sec" style="left:1458.1px;top:1084.4px;width:119.0px;height:84.1px"></div>
<div class="sech" style="left:1463.7px;top:1096.7px;line-height:28px">Các dị...</div>
<div class="sec" style="left:1578.9px;top:1084.4px;width:71.1px;height:67.8px"></div>
<div class="sech" style="left:1584.7px;top:1096.7px;line-height:28px">Dầ...</div>
<div class="sec" style="left:1578.9px;top:1154px;width:71.1px;height:14.5px"></div>
<div class="abs" style="left:622px;top:716px;width:651.0px;height:447.8px;background:#46382c"></div>
<div class="abs" style="left:1287px;top:716px;width:183.2px;height:235.7px;background:#46382c"></div>
<div class="abs" style="left:1484.4px;top:716px;width:159.6px;height:235.7px;background:#46382c"></div>
<div class="abs" style="left:1287px;top:1012.3px;width:163.8px;height:151.5px;background:#46382c"></div>
<div class="abs" style="left:1464.3px;top:1012.3px;width:88.7px;height:64.1px;background:#46382c"></div>
<div class="abs" style="left:1567.6px;top:1012.3px;width:76.4px;height:64.1px;background:#46382c"></div>
<div class="abs" style="left:1464.3px;top:1137.2px;width:106.7px;height:26.6px;background:#46382c"></div>
<div class="abs" style="left:1585.2px;top:1137.2px;width:58.8px;height:8.3px;background:#46382c"></div>
<div class="tm" style="left:622.0px;top:716.0px;width:166.0px;height:123.8px;background:#b74e1e;"><div style="position:absolute;left:-20px;right:-20px;top:37.5px">VIX<br>-2.22%</div></div>
<div class="tm" style="left:622.0px;top:842.0px;width:166.0px;height:107.5px;background:#b43a1c;"><div style="position:absolute;left:-20px;right:-20px;top:29.4px">SSI<br>-3.04%</div></div>
<div class="tm" style="left:622.0px;top:951.7px;width:166.0px;height:70.8px;background:#be762a;"><div style="position:absolute;left:-20px;right:-20px;top:11.0px">VHM<br>-0.25%</div></div>
<div class="tm" style="left:622.0px;top:1025.0px;width:166.0px;height:68.8px;background:#ba5a22;"><div style="position:absolute;left:-20px;right:-20px;top:10.0px">VPB<br>-1.58%</div></div>
<div class="tm" style="left:622.0px;top:1096.5px;width:166.0px;height:67.3px;background:#bc6426;"><div style="position:absolute;left:-20px;right:-20px;top:9.2px">TPB<br></div></div>
<div class="tm" style="left:790.3px;top:716.0px;width:132.0px;height:80.8px;background:#ba5a22;"><div style="position:absolute;left:-20px;right:-20px;top:16.0px">SHB<br>-1.45%</div></div>
<div class="tm" style="left:790.3px;top:799.2px;width:132.0px;height:80.4px;background:#84c23a;"><div style="position:absolute;left:-20px;right:-20px;top:15.8px">DXG<br>0.94%</div></div>
<div class="tm" style="left:790.3px;top:882.3px;width:132.0px;height:74.7px;background:#ba5a22;"><div style="position:absolute;left:-20px;right:-20px;top:13.0px">TCB<br>-1.54%</div></div>
<div class="tm" style="left:790.3px;top:959.5px;width:132.0px;height:73.5px;background:#be762a;"><div style="position:absolute;left:-20px;right:-20px;top:12.4px">VIB<br>-0.27%</div></div>
<div class="tm" style="left:790.3px;top:1035.7px;width:132.0px;height:63.3px;background:#be762a;"><div style="position:absolute;left:-20px;right:-20px;top:7.2px">STB<br></div></div>
<div class="tm" style="left:790.3px;top:1101.3px;width:132.0px;height:62.5px;background:#b5441e;"><div style="position:absolute;left:-20px;right:-20px;top:6.9px">HCM<br></div></div>
<div class="tm" style="left:924.7px;top:716.0px;width:73.3px;height:112.7px;background:#70be3a;"><div style="position:absolute;left:-20px;right:-20px;top:32.0px">KBC<br>2....</div></div>
<div class="tm" style="left:1000.3px;top:716.0px;width:71.3px;height:112.7px;background:#bc6426;"><div style="position:absolute;left:-20px;right:-20px;top:32.0px">M...<br>-1....</div></div>
<div class="tm" style="left:1074.0px;top:716.0px;width:65.4px;height:112.7px;background:#b74e1e;"><div style="position:absolute;left:-20px;right:-20px;top:32.0px">VCI<br>-1.9</div></div>
<div class="tm" style="left:1142.0px;top:716.0px;width:64.8px;height:112.7px;background:#b74e1e;"><div style="position:absolute;left:-20px;right:-20px;top:32.0px">VN<br>-2.1</div></div>
<div class="tm" style="left:1209.2px;top:716.0px;width:63.8px;height:112.7px;background:#84c23a;"><div style="position:absolute;left:-20px;right:-20px;top:32.0px">VR<br>0.5</div></div>
<div class="tm" style="left:924.7px;top:831.7px;width:93.6px;height:69.3px;background:#b5441e;"><div style="position:absolute;left:-20px;right:-20px;top:10.2px">HDB<br>-2.1...</div></div>
<div class="tm" style="left:1021.0px;top:831.7px;width:64.0px;height:84.3px;background:#b5441e;"><div style="position:absolute;left:-20px;right:-20px;top:17.7px">PD<br>-2.6</div></div>
<div class="tm" style="left:1087.4px;top:831.7px;width:62.6px;height:84.3px;background:#cdcf42;"><div style="position:absolute;left:-20px;right:-20px;top:17.7px">OR<br>0.0</div></div>
<div class="tm" style="left:1152.3px;top:831.7px;width:61.7px;height:84.3px;background:#b74e1e;"><div style="position:absolute;left:-20px;right:-20px;top:17.7px">TC<br>-2.</div></div>
<div class="tm" style="left:1216.3px;top:831.7px;width:56.7px;height:84.3px;background:#b02f1c;"><div style="position:absolute;left:-20px;right:-20px;top:17.7px">NV<br>-3.</div></div>
<div class="tm" style="left:924.7px;top:903.7px;width:93.6px;height:67.0px;background:#be7028;"><div style="position:absolute;left:-20px;right:-20px;top:9.1px">ACB<br></div></div>
<div class="tm" style="left:924.7px;top:973.2px;width:93.6px;height:63.8px;background:#b5441e;"><div style="position:absolute;left:-20px;right:-20px;top:7.5px">MSB<br></div></div>
<div class="tm" style="left:924.7px;top:1039.3px;width:93.6px;height:61.7px;background:#bc6426;"><div style="position:absolute;left:-20px;right:-20px;top:6.5px">DIG<br></div></div>
<div class="tm" style="left:924.7px;top:1103.3px;width:93.6px;height:60.5px;background:#bc6426;"><div style="position:absolute;left:-20px;right:-20px;top:5.9px">CTG<br></div></div>
<div class="tm" style="left:1021.0px;top:918.3px;width:65.3px;height:50.5px;background:#84c23a;"><div style="position:absolute;left:-20px;right:-20px;top:0.9px">BC<br></div></div>
<div class="tm" style="left:1021.0px;top:971.2px;width:65.3px;height:50.1px;background:#70be3a;"><div style="position:absolute;left:-20px;right:-20px;top:0.6px">SZ<br></div></div>
<div class="tm" style="left:1021.0px;top:1024.0px;width:65.3px;height:49.0px;background:#b5441e;"><div style="position:absolute;left:-20px;right:-20px;top:0.1px">EIB<br></div></div>
<div class="tm" style="left:1021.0px;top:1075.5px;width:65.3px;height:45.0px;background:#b74e1e;"><div style="position:absolute;left:-20px;right:-20px;top:-1.9px">HD<br></div></div>
<div class="tm" style="left:1021.0px;top:1123.5px;width:65.3px;height:40.3px;background:#be7028;"></div>
<div class="tm" style="left:1089.0px;top:918.3px;width:45.2px;height:54.0px;background:#b43a1c;"><div style="position:absolute;left:-20px;right:-20px;top:2.6px">H<br></div></div>
<div class="tm" style="left:1137.0px;top:918.3px;width:45.0px;height:54.0px;background:#ba5a22;"><div style="position:absolute;left:-20px;right:-20px;top:2.6px">O<br></div></div>
<div class="tm" style="left:1185.0px;top:918.3px;width:44.0px;height:54.0px;background:#bc6426;"><div style="position:absolute;left:-20px;right:-20px;top:2.6px">E<br></div></div>
<div class="tm" style="left:1231.7px;top:918.3px;width:41.3px;height:54.0px;background:#b74e1e;"><div style="position:absolute;left:-20px;right:-20px;top:2.6px">K<br></div></div>
<div class="tm" style="left:1089.0px;top:975.0px;width:33.5px;height:56.8px;background:#84c23a;"></div>
<div class="tm" style="left:1124.8px;top:975.0px;width:32.7px;height:56.8px;background:#b74e1e;"></div>
<div class="tm" style="left:1159.8px;top:975.0px;width:28.0px;height:56.8px;background:#b74e1e;"></div>
<div class="tm" style="left:1190.0px;top:975.0px;width:27.2px;height:56.8px;background:#b22a1c;"></div>
<div class="tm" style="left:1219.5px;top:975.0px;width:25.0px;height:56.8px;background:#be7028;"></div>
<div class="tm" style="left:1247.3px;top:975.0px;width:25.7px;height:56.8px;background:#84c23a;"></div>
<div class="tm" style="left:1089.0px;top:1034.2px;width:40.5px;height:34.3px;background:#ba5a22;"></div>
<div class="tm" style="left:1132.5px;top:1034.2px;width:41.3px;height:25.6px;background:#b22a1c;"></div>
<div class="tm" style="left:1132.5px;top:1062.5px;width:41.3px;height:25.3px;background:#b02f1c;"></div>
<div class="tm" style="left:1176.0px;top:1034.2px;width:25.3px;height:33.3px;background:#bc6426;"></div>
<div class="tm" style="left:1203.7px;top:1034.2px;width:23.3px;height:33.3px;background:#be7028;"></div>
<div class="tm" style="left:1229.8px;top:1034.2px;width:21.0px;height:33.3px;background:#b22a1c;"></div>
<div class="tm" style="left:1253.4px;top:1034.2px;width:19.6px;height:33.3px;background:#84c23a;"></div>
<div class="tm" style="left:1089.0px;top:1071.2px;width:40.5px;height:32.3px;background:#ba5a22;"></div>
<div class="tm" style="left:1089.0px;top:1106.3px;width:40.5px;height:27.5px;background:#84c23a;"></div>
<div class="tm" style="left:1089.0px;top:1136.2px;width:40.5px;height:27.6px;background:#84c23a;"></div>
<div class="tm" style="left:1132.5px;top:1090.6px;width:41.3px;height:22.9px;background:#b74e1e;"></div>
<div class="tm" style="left:1132.5px;top:1116.3px;width:41.3px;height:22.2px;background:#be7028;"></div>
<div class="tm" style="left:1132.5px;top:1141.2px;width:41.3px;height:22.6px;background:#bc6426;"></div>
<div class="tm" style="left:1176.0px;top:1070.3px;width:30.0px;height:22.2px;background:#b74e1e;"></div>
<div class="tm" style="left:1176.0px;top:1095.2px;width:30.0px;height:21.3px;background:#d3c83e;"></div>
<div class="tm" style="left:1176.0px;top:1119.0px;width:30.0px;height:21.3px;background:#b74e1e;"></div>
<div class="tm" style="left:1176.0px;top:1143.0px;width:30.0px;height:20.8px;background:#bc6426;"></div>
<div class="tm" style="left:1208.5px;top:1070.3px;width:18.5px;height:29.2px;background:#be7028;"></div>
<div class="tm" style="left:1229.3px;top:1070.3px;width:13.3px;height:29.2px;background:#d3c83e;"></div>
<div class="tm" style="left:1245.0px;top:1070.3px;width:12.8px;height:29.2px;background:#d3c83e;"></div>
<div class="tm" style="left:1260.0px;top:1070.3px;width:13.0px;height:29.2px;background:#be7028;"></div>
<div class="tm" style="left:1208.5px;top:1102.2px;width:22.5px;height:15.8px;background:#b74e1e;"></div>
<div class="tm" style="left:1208.5px;top:1120.3px;width:22.5px;height:11.2px;background:#bc6426;"></div>
<div class="tm" style="left:1208.5px;top:1133.8px;width:22.5px;height:9.7px;background:#ba5a22;"></div>
<div class="tm" style="left:1208.5px;top:1145.8px;width:22.5px;height:8.5px;background:#84c23a;"></div>
<div class="tm" style="left:1208.5px;top:1156.5px;width:22.5px;height:7.3px;background:#b74e1e;"></div>
<div class="tm" style="left:1233.5px;top:1102.2px;width:8.5px;height:17.3px;background:#bc6426;"></div>
<div class="tm" style="left:1244.0px;top:1102.2px;width:8.5px;height:17.3px;background:#ba5a22;"></div>
<div class="tm" style="left:1254.5px;top:1102.2px;width:9.0px;height:17.3px;background:#b74e1e;"></div>
<div class="tm" style="left:1265.5px;top:1102.2px;width:7.5px;height:17.3px;background:#bc6426;"></div>
<div class="tm" style="left:1233.5px;top:1121.8px;width:9.0px;height:11.7px;background:#ba5a22;"></div>
<div class="tm" style="left:1244.5px;top:1121.8px;width:9.0px;height:11.7px;background:#bc6426;"></div>
<div class="tm" style="left:1255.8px;top:1121.8px;width:8.0px;height:11.7px;background:#d3c83e;"></div>
<div class="tm" style="left:1266.0px;top:1121.8px;width:7.0px;height:11.7px;background:#d3c83e;"></div>
<div class="tm" style="left:1233.5px;top:1135.8px;width:11.5px;height:6.7px;background:#ba5a22;"></div>
<div class="tm" style="left:1233.5px;top:1144.5px;width:11.5px;height:5.5px;background:#bc6426;"></div>
<div class="tm" style="left:1233.5px;top:1152.0px;width:11.5px;height:5.0px;background:#b74e1e;"></div>
<div class="tm" style="left:1233.5px;top:1159.0px;width:11.5px;height:4.8px;background:#ba5a22;"></div>
<div class="tm" style="left:1247.0px;top:1135.8px;width:6.5px;height:11.2px;background:#b74e1e;"></div>
<div class="tm" style="left:1255.5px;top:1135.8px;width:4.5px;height:11.2px;background:#b02f1c;"></div>
<div class="tm" style="left:1262.0px;top:1135.8px;width:4.5px;height:11.2px;background:#ba5a22;"></div>
<div class="tm" style="left:1268.5px;top:1135.8px;width:4.5px;height:11.2px;background:#b74e1e;"></div>
<div class="tm" style="left:1247.0px;top:1149.0px;width:7.5px;height:7.0px;background:#ba5a22;"></div>
<div class="tm" style="left:1247.0px;top:1158.0px;width:7.5px;height:5.8px;background:#b74e1e;"></div>
<div class="tm" style="left:1256.5px;top:1149.0px;width:9.5px;height:4.0px;background:#84c23a;"></div>
<div class="tm" style="left:1256.5px;top:1155.0px;width:9.5px;height:3.5px;background:#55b738;"></div>
<div class="tm" style="left:1256.5px;top:1160.3px;width:9.5px;height:3.5px;background:#84c23a;"></div>
<div class="tm" style="left:1268.0px;top:1149.0px;width:5.0px;height:7.0px;background:#ba5a22;"></div>
<div class="tm" style="left:1268.0px;top:1158.0px;width:5.0px;height:5.8px;background:#bc6426;"></div>
<div class="tm" style="left:1287.0px;top:716.0px;width:127.7px;height:130.8px;background:#bc6426;"><div style="position:absolute;left:-20px;right:-20px;top:41.0px">HPG<br>-1.52%</div></div>
<div class="tm" style="left:1417.2px;top:716.0px;width:53.0px;height:130.8px;background:#b5441e;"><div style="position:absolute;left:-20px;right:-20px;top:41.0px">H<br>-3.</div></div>
<div class="tm" style="left:1287.0px;top:850.2px;width:65.7px;height:64.6px;background:#b5441e;"><div style="position:absolute;left:-20px;right:-20px;top:7.9px">NK<br></div></div>
<div class="tm" style="left:1287.0px;top:918.1px;width:65.7px;height:33.6px;background:#b5441e;"></div>
<div class="tm" style="left:1356.0px;top:850.2px;width:48.3px;height:36.2px;background:#ba5a22;"></div>
<div class="tm" style="left:1356.0px;top:889.5px;width:48.3px;height:34.8px;background:#bc6426;"></div>
<div class="tm" style="left:1356.0px;top:927.0px;width:48.3px;height:24.7px;background:#bc6426;"></div>
<div class="tm" style="left:1407.0px;top:850.2px;width:31.0px;height:31.8px;background:#ba5a22;"></div>
<div class="tm" style="left:1440.5px;top:850.2px;width:29.7px;height:31.8px;background:#bc6426;"></div>
<div class="tm" style="left:1407.0px;top:884.6px;width:24.5px;height:29.4px;background:#be7028;"></div>
<div class="tm" style="left:1433.8px;top:884.6px;width:20.9px;height:29.4px;background:#55b738;"></div>
<div class="tm" style="left:1457.3px;top:884.6px;width:12.9px;height:29.4px;background:#ba5a22;"></div>
<div class="tm" style="left:1407.0px;top:917.0px;width:18.0px;height:18.5px;background:#d3c83e;"></div>
<div class="tm" style="left:1428.0px;top:917.0px;width:16.4px;height:11.0px;background:#d3c83e;"></div>
<div class="tm" style="left:1446.5px;top:917.0px;width:6.5px;height:13.0px;background:#ba5a22;"></div>
<div class="tm" style="left:1455.3px;top:917.0px;width:6.7px;height:13.0px;background:#d3c83e;"></div>
<div class="tm" style="left:1464.0px;top:917.0px;width:6.2px;height:13.0px;background:#ba5a22;"></div>
<div class="tm" style="left:1407.0px;top:938.0px;width:18.0px;height:13.7px;background:#bc6426;"></div>
<div class="tm" style="left:1428.0px;top:930.5px;width:16.4px;height:7.5px;background:#ba5a22;"></div>
<div class="tm" style="left:1428.0px;top:940.0px;width:16.4px;height:5.0px;background:#ba5a22;"></div>
<div class="tm" style="left:1428.0px;top:947.0px;width:16.4px;height:4.7px;background:#bc6426;"></div>
<div class="tm" style="left:1446.5px;top:932.2px;width:9.5px;height:6.8px;background:#ba5a22;"></div>
<div class="tm" style="left:1458.0px;top:932.2px;width:5.0px;height:9.8px;background:#b22a1c;"></div>
<div class="tm" style="left:1465.0px;top:932.2px;width:5.2px;height:9.8px;background:#ba5a22;"></div>
<div class="tm" style="left:1446.5px;top:941.0px;width:9.5px;height:5.0px;background:#bc6426;"></div>
<div class="tm" style="left:1446.5px;top:948.0px;width:9.5px;height:3.7px;background:#bc6426;"></div>
<div class="tm" style="left:1458.0px;top:944.0px;width:12.2px;height:3.5px;background:#ba5a22;"></div>
<div class="tm" style="left:1458.0px;top:949.3px;width:12.2px;height:2.4px;background:#bc6426;"></div>
<div class="tm" style="left:1484.4px;top:716.0px;width:68.5px;height:76.6px;background:#84c23a;"><div style="position:absolute;left:-20px;right:-20px;top:13.9px">G...<br>1....</div></div>
<div class="tm" style="left:1555.5px;top:716.0px;width:48.3px;height:76.6px;background:#ba5a22;"><div style="position:absolute;left:-20px;right:-20px;top:13.9px">V<br>-2</div></div>
<div class="tm" style="left:1606.6px;top:716.0px;width:37.4px;height:76.6px;background:#b22a1c;"><div style="position:absolute;left:-20px;right:-20px;top:13.9px">&nbsp;<br>-</div></div>
<div class="tm" style="left:1484.4px;top:796.0px;width:54.3px;height:41.3px;background:#bc6426;"></div>
<div class="tm" style="left:1541.8px;top:796.0px;width:33.5px;height:41.3px;background:#84c23a;"></div>
<div class="tm" style="left:1578.0px;top:796.0px;width:33.0px;height:41.3px;background:#55b738;"></div>
<div class="tm" style="left:1613.6px;top:796.0px;width:30.4px;height:41.3px;background:#ba5a22;"></div>
<div class="tm" style="left:1484.4px;top:840.6px;width:54.3px;height:42.7px;background:#84c23a;"></div>
<div class="tm" style="left:1484.4px;top:885.8px;width:54.3px;height:31.6px;background:#ba5a22;"></div>
<div class="tm" style="left:1484.4px;top:920.0px;width:54.3px;height:31.7px;background:#be7028;"></div>
<div class="tm" style="left:1542.5px;top:840.6px;width:27.2px;height:37.1px;background:#bc6426;"></div>
<div class="tm" style="left:1572.2px;top:840.6px;width:24.6px;height:37.1px;background:#bc6426;"></div>
<div class="tm" style="left:1599.4px;top:840.6px;width:23.2px;height:37.1px;background:#bc6426;"></div>
<div class="tm" style="left:1625.2px;top:840.6px;width:18.8px;height:37.1px;background:#be7028;"></div>
<div class="tm" style="left:1542.5px;top:880.5px;width:30.3px;height:22.7px;background:#bc6426;"></div>
<div class="tm" style="left:1575.3px;top:880.5px;width:13.7px;height:22.7px;background:#b43a1c;"></div>
<div class="tm" style="left:1591.6px;top:880.5px;width:11.6px;height:22.7px;background:#55b738;"></div>
<div class="tm" style="left:1605.5px;top:880.5px;width:10.5px;height:22.7px;background:#bc6426;"></div>
<div class="tm" style="left:1618.5px;top:880.5px;width:11.5px;height:22.7px;background:#be7028;"></div>
<div class="tm" style="left:1632.5px;top:880.5px;width:11.5px;height:22.7px;background:#84c23a;"></div>
<div class="tm" style="left:1542.5px;top:905.7px;width:30.3px;height:16.1px;background:#ba5a22;"></div>
<div class="tm" style="left:1542.5px;top:924.2px;width:30.3px;height:13.6px;background:#bc6426;"></div>
<div class="tm" style="left:1542.5px;top:940.2px;width:30.3px;height:11.5px;background:#bc6426;"></div>
<div class="tm" style="left:1575.3px;top:905.7px;width:16.3px;height:14.3px;background:#84c23a;"></div>
<div class="tm" style="left:1594.0px;top:905.7px;width:16.0px;height:14.3px;background:#84c23a;"></div>
<div class="tm" style="left:1612.5px;top:905.7px;width:9.5px;height:14.3px;background:#55b738;"></div>
<div class="tm" style="left:1624.0px;top:905.7px;width:8.0px;height:14.3px;background:#bc6426;"></div>
<div class="tm" style="left:1634.0px;top:905.7px;width:10.0px;height:14.3px;background:#84c23a;"></div>
<div class="tm" style="left:1575.3px;top:922.5px;width:16.3px;height:14.2px;background:#d3c83e;"></div>
<div class="tm" style="left:1575.3px;top:939.0px;width:16.3px;height:12.7px;background:#bc6426;"></div>
<div class="tm" style="left:1594.0px;top:922.5px;width:16.0px;height:7.5px;background:#ba5a22;"></div>
<div class="tm" style="left:1594.0px;top:932.0px;width:16.0px;height:6.5px;background:#b5441e;"></div>
<div class="tm" style="left:1594.0px;top:940.5px;width:16.0px;height:11.2px;background:#d3c83e;"></div>
<div class="tm" style="left:1612.5px;top:922.5px;width:8.0px;height:12.5px;background:#bc6426;"></div>
<div class="tm" style="left:1622.5px;top:922.5px;width:6.5px;height:12.5px;background:#ba5a22;"></div>
<div class="tm" style="left:1631.0px;top:922.5px;width:5.5px;height:12.5px;background:#bc6426;"></div>
<div class="tm" style="left:1638.5px;top:922.5px;width:5.5px;height:12.5px;background:#be7028;"></div>
<div class="tm" style="left:1612.5px;top:937.0px;width:9.5px;height:6.5px;background:#ba5a22;"></div>
<div class="tm" style="left:1624.0px;top:937.0px;width:6.0px;height:6.5px;background:#bc6426;"></div>
<div class="tm" style="left:1632.0px;top:937.0px;width:5.0px;height:6.5px;background:#ba5a22;"></div>
<div class="tm" style="left:1639.0px;top:937.0px;width:5.0px;height:6.5px;background:#bc6426;"></div>
<div class="tm" style="left:1612.5px;top:945.5px;width:7.5px;height:2.5px;background:#ba5a22;"></div>
<div class="tm" style="left:1612.5px;top:949.7px;width:7.5px;height:2.0px;background:#d3c83e;"></div>
<div class="tm" style="left:1622.0px;top:945.5px;width:7.0px;height:6.2px;background:#bc6426;"></div>
<div class="tm" style="left:1631.0px;top:945.5px;width:13.0px;height:2.5px;background:#ba5a22;"></div>
<div class="tm" style="left:1631.0px;top:949.7px;width:13.0px;height:2.0px;background:#d3c83e;"></div>
<div class="tm" style="left:1287.0px;top:1012.3px;width:70.7px;height:57.5px;background:#ba5a22;"><div style="position:absolute;left:-20px;right:-20px;top:4.4px">D...<br></div></div>
<div class="tm" style="left:1360.0px;top:1012.3px;width:52.8px;height:53.4px;background:#55b738;"><div style="position:absolute;left:-20px;right:-20px;top:2.3px">B<br></div></div>
<div class="tm" style="left:1415.2px;top:1012.3px;width:35.6px;height:53.4px;background:#bc6426;"></div>
<div class="tm" style="left:1287.0px;top:1072.6px;width:70.7px;height:46.9px;background:#84c23a;"><div style="position:absolute;left:-20px;right:-20px;top:-0.9px">H...<br></div></div>
<div class="tm" style="left:1287.0px;top:1122.3px;width:70.7px;height:41.5px;background:#be7028;"></div>
<div class="tm" style="left:1360.0px;top:1068.4px;width:31.2px;height:40.6px;background:#84c23a;"></div>
<div class="tm" style="left:1393.7px;top:1068.4px;width:18.3px;height:40.6px;background:#b43a1c;"></div>
<div class="tm" style="left:1414.5px;top:1068.4px;width:17.2px;height:40.6px;background:#84c23a;"></div>
<div class="tm" style="left:1434.0px;top:1068.4px;width:16.8px;height:40.6px;background:#be7028;"></div>
<div class="tm" style="left:1360.0px;top:1111.5px;width:25.9px;height:15.9px;background:#bc6426;"></div>
<div class="tm" style="left:1388.5px;top:1111.5px;width:20.4px;height:15.9px;background:#bc6426;"></div>
<div class="tm" style="left:1411.3px;top:1111.5px;width:11.7px;height:19.1px;background:#d3c83e;"></div>
<div class="tm" style="left:1425.5px;top:1111.5px;width:11.8px;height:19.1px;background:#70be3a;"></div>
<div class="tm" style="left:1439.6px;top:1111.5px;width:11.2px;height:19.1px;background:#b74e1e;"></div>
<div class="tm" style="left:1360.0px;top:1129.8px;width:25.9px;height:16.0px;background:#bc6426;"></div>
<div class="tm" style="left:1360.0px;top:1148.2px;width:25.9px;height:15.6px;background:#be7028;"></div>
<div class="tm" style="left:1388.5px;top:1129.8px;width:20.4px;height:17.2px;background:#bc6426;"></div>
<div class="tm" style="left:1388.5px;top:1149.4px;width:20.4px;height:14.4px;background:#be7028;"></div>
<div class="tm" style="left:1411.3px;top:1133.2px;width:17.9px;height:9.6px;background:#b43a1c;"></div>
<div class="tm" style="left:1431.5px;top:1133.2px;width:8.0px;height:11.8px;background:#d3c83e;"></div>
<div class="tm" style="left:1441.8px;top:1133.2px;width:9.0px;height:11.8px;background:#70be3a;"></div>
<div class="tm" style="left:1411.3px;top:1145.0px;width:17.9px;height:8.0px;background:#bc6426;"></div>
<div class="tm" style="left:1411.3px;top:1155.0px;width:17.9px;height:8.8px;background:#bc6426;"></div>
<div class="tm" style="left:1431.5px;top:1147.2px;width:9.0px;height:6.8px;background:#ba5a22;"></div>
<div class="tm" style="left:1442.5px;top:1147.2px;width:8.3px;height:6.8px;background:#b74e1e;"></div>
<div class="tm" style="left:1431.5px;top:1156.0px;width:6.0px;height:7.8px;background:#bc6426;"></div>
<div class="tm" style="left:1439.5px;top:1156.0px;width:5.0px;height:7.8px;background:#ba5a22;"></div>
<div class="tm" style="left:1446.5px;top:1156.0px;width:4.3px;height:7.8px;background:#bc6426;"></div>
<div class="tm" style="left:1464.3px;top:1012.3px;width:52.6px;height:45.3px;background:#ba5a22;"><div style="position:absolute;left:-20px;right:-20px;top:-1.8px">M<br></div></div>
<div class="tm" style="left:1464.3px;top:1060.0px;width:52.6px;height:16.4px;background:#ba5a22;"></div>
<div class="tm" style="left:1519.4px;top:1012.3px;width:20.0px;height:39.2px;background:#b74e1e;"></div>
<div class="tm" style="left:1541.6px;top:1012.3px;width:11.4px;height:39.2px;background:#ba5a22;"></div>
<div class="tm" style="left:1519.4px;top:1053.9px;width:26.6px;height:12.7px;background:#b74e1e;"></div>
<div class="tm" style="left:1519.4px;top:1069.0px;width:26.6px;height:7.4px;background:#d3c83e;"></div>
<div class="tm" style="left:1548.2px;top:1053.9px;width:4.8px;height:22.5px;background:#d3c83e;"></div>
<div class="tm" style="left:1567.6px;top:1012.3px;width:62.0px;height:36.7px;background:#bc6426;"></div>
<div class="tm" style="left:1567.6px;top:1052.0px;width:62.0px;height:24.4px;background:#55b738;"></div>
<div class="tm" style="left:1632.0px;top:1012.3px;width:12.0px;height:23.7px;background:#b22a1c;"></div>
<div class="tm" style="left:1632.0px;top:1038.5px;width:12.0px;height:17.8px;background:#bc6426;"></div>
<div class="tm" style="left:1632.0px;top:1059.0px;width:12.0px;height:9.6px;background:#ba5a22;"></div>
<div class="tm" style="left:1632.0px;top:1070.8px;width:6.0px;height:5.6px;background:#b74e1e;"></div>
<div class="tm" style="left:1640.0px;top:1070.8px;width:4.0px;height:5.6px;background:#b22a1c;"></div>
<div class="tm" style="left:1464.3px;top:1137.2px;width:66.1px;height:26.6px;background:#bc6426;"></div>
<div class="tm" style="left:1532.8px;top:1137.2px;width:15.9px;height:14.7px;background:#bc6426;"></div>
<div class="tm" style="left:1532.8px;top:1154.6px;width:15.9px;height:9.2px;background:#d3c83e;"></div>
<div class="tm" style="left:1551.2px;top:1137.2px;width:12.8px;height:11.0px;background:#bc6426;"></div>
<div class="tm" style="left:1551.2px;top:1150.5px;width:10.8px;height:7.5px;background:#b74e1e;"></div>
<div class="tm" style="left:1551.2px;top:1160.0px;width:10.8px;height:3.8px;background:#d3c83e;"></div>
<div class="tm" style="left:1566.0px;top:1137.2px;width:5.0px;height:11.0px;background:#ba5a22;"></div>
<div class="tm" style="left:1564.0px;top:1150.5px;width:3.0px;height:13.3px;background:#ba5a22;"></div>
<div class="tm" style="left:1568.5px;top:1150.5px;width:2.5px;height:13.3px;background:#b74e1e;"></div>
<div class="tm" style="left:1585.2px;top:1137.2px;width:44.8px;height:8.3px;background:#d3c83e;"></div>
<div class="tm" style="left:1632.0px;top:1137.2px;width:12.0px;height:3.5px;background:#b22a1c;"></div>
<div class="tm" style="left:1632.0px;top:1142.3px;width:12.0px;height:3.2px;background:#ba5a22;"></div>
</body></html>
